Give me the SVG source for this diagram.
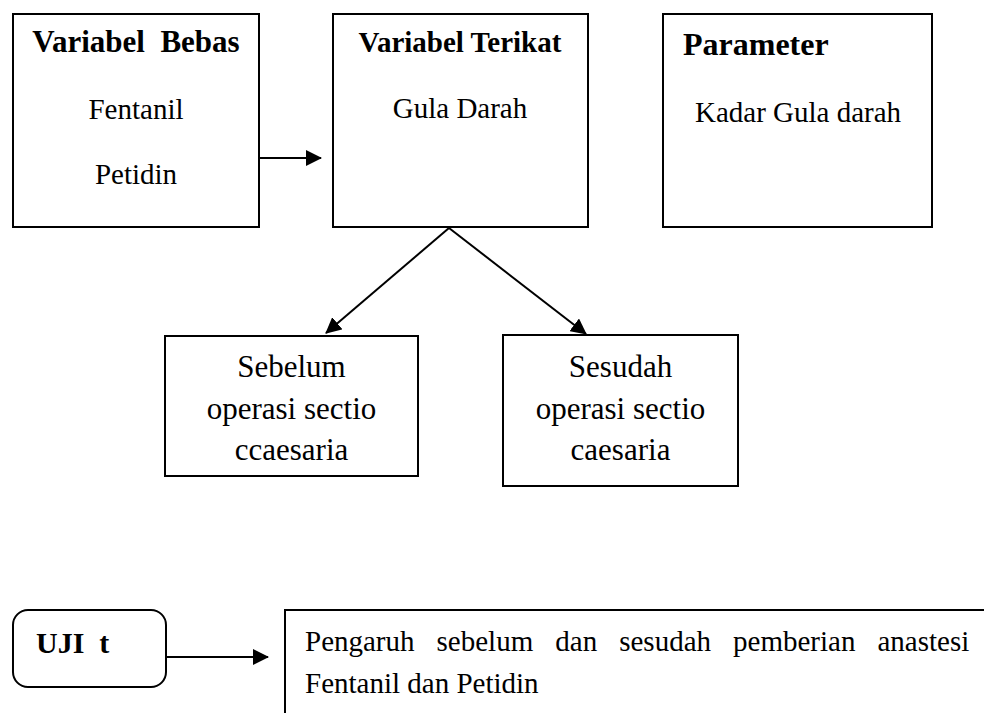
<svg xmlns="http://www.w3.org/2000/svg" width="984" height="713" viewBox="0 0 984 713">
<style>
.box{fill:#fff;stroke:#000;stroke-width:2}
.t{font-family:"Liberation Serif","Times New Roman",serif;fill:#000}
.b{font-weight:bold}
.c{text-anchor:middle}
.ln{stroke:#000;stroke-width:2;fill:none}
</style>
<defs>
<marker id="ah" markerUnits="userSpaceOnUse" markerWidth="16" markerHeight="16" refX="15" refY="8" orient="auto" viewBox="0 0 16 16">
<path d="M0,0 L16,8 L0,16 z" fill="#000"/>
</marker>
</defs>
<rect width="984" height="713" fill="#fff"/>
<g id="connectors">
<line class="ln" x1="259" y1="158" x2="321" y2="158" marker-end="url(#ah)"/>
<line class="ln" x1="449" y1="228" x2="326" y2="333" marker-end="url(#ah)"/>
<line class="ln" x1="449" y1="228" x2="586" y2="334" marker-end="url(#ah)"/>
<line class="ln" x1="166" y1="657" x2="268" y2="657" marker-end="url(#ah)"/>
</g>
<g id="variabel-bebas">
<rect class="box" x="13" y="14" width="246" height="213"/>
<text class="t b c" x="136" y="52" font-size="31" xml:space="preserve">Variabel  Bebas</text>
<text class="t c" x="136" y="119" font-size="29">Fentanil</text>
<text class="t c" x="136" y="184" font-size="29">Petidin</text>
</g>
<g id="variabel-terikat">
<rect class="box" x="333" y="14" width="255" height="213"/>
<text class="t b c" x="460" y="52" font-size="29">Variabel Terikat</text>
<text class="t c" x="460" y="118" font-size="29">Gula Darah</text>
</g>
<g id="parameter">
<rect class="box" x="663" y="14" width="269" height="213"/>
<text class="t b" x="683" y="55" font-size="32">Parameter</text>
<text class="t" x="695" y="122" font-size="29">Kadar Gula darah</text>
</g>
<g id="sebelum">
<rect class="box" x="165" y="336" width="253" height="140"/>
<text class="t c" x="291.5" y="377" font-size="31">Sebelum</text>
<text class="t c" x="291.5" y="419" font-size="31">operasi sectio</text>
<text class="t c" x="291.5" y="460" font-size="31">ccaesaria</text>
</g>
<g id="sesudah">
<rect class="box" x="503" y="335" width="235" height="151"/>
<text class="t c" x="620.5" y="377" font-size="31">Sesudah</text>
<text class="t c" x="620.5" y="419" font-size="31">operasi sectio</text>
<text class="t c" x="620.5" y="460" font-size="31">caesaria</text>
</g>
<g id="uji-t">
<rect class="box" x="13" y="610" width="153" height="77" rx="15" ry="15"/>
<text class="t b" x="36" y="653" font-size="30" xml:space="preserve">UJI  t</text>
</g>
<g id="pengaruh">
<path class="ln" d="M285,713 L285,610 L984,610"/>
<text class="t" x="305" y="651" font-size="29" word-spacing="14.8">Pengaruh sebelum dan sesudah pemberian anastesi</text>
<text class="t" x="305" y="693" font-size="29">Fentanil dan Petidin</text>
</g>
</svg>
